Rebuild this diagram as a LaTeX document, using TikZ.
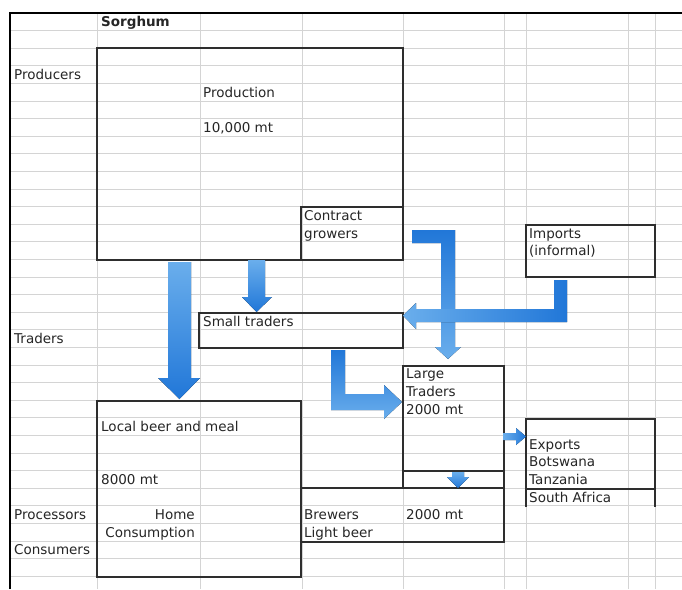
\documentclass[tikz,border=0pt]{standalone}
\usepackage{fontspec}
\setmainfont{DejaVu Sans}
\definecolor{gridc}{HTML}{D4D4D4}
\definecolor{boxc}{HTML}{2E2E2E}
\definecolor{txt}{HTML}{262626}
\definecolor{adark}{HTML}{2177D8}
\definecolor{alight}{HTML}{6AAEEC}
\begin{document}
\begin{tikzpicture}[x=1pt,y=-1pt,
  gridline/.style={draw=gridc, line width=1pt},
  box/.style={draw=boxc, line width=1.1pt, rectangle, inner sep=0pt, outer sep=0pt, anchor=north west},
  lbl/.style={anchor=base west, inner sep=0pt, font=\fontsize{13.5}{15}\selectfont, text=txt},
  lblr/.style={anchor=base east, inner sep=0pt, font=\fontsize{13.5}{15}\selectfont, text=txt},
  fat/.style={draw=none}
]
\useasboundingbox[fill=white] (0,0) rectangle (682,589);
% spreadsheet grid
\foreach \k in {1,...,32} \draw[gridline] (10,{13+17.6*\k}) -- (682,{13+17.6*\k});
\foreach \x in {97,200,302,403,504,526,628,655} \draw[gridline] (\x,13) -- (\x,589);
% frame
\draw[black, line width=1.3pt] (10,589) -- (10,13) -- (682,13);

% boxes
\node[box, minimum width=306pt, minimum height=212pt] (prod) at (97,48) {};
\node[box, minimum width=102pt, minimum height=53pt] (contract) at (301,207) {};
\node[box, minimum width=129pt, minimum height=52pt] (imports) at (526,225) {};
\node[box, minimum width=204pt, minimum height=35pt] (small) at (199,313) {};
\node[box, minimum width=101pt, minimum height=122pt] (large) at (403,366) {};
\node[box, minimum width=203pt, minimum height=54pt] (brewers) at (301,488) {};
\node[box, minimum width=204pt, minimum height=176pt] (local) at (97,401) {};
\coordinate (largeinL) at (403,471);
\coordinate (largeinR) at (504,471);
\draw[boxc, line width=1.1pt] (largeinL) -- (largeinR);
\node[rectangle, inner sep=0pt, outer sep=0pt, anchor=north west, minimum width=129pt, minimum height=88pt] (exports) at (526,419) {};
\coordinate (exmidL) at (526,489);
\coordinate (exmidR) at (655,489);
\draw[boxc, line width=1.1pt] (exports.south west) -- (exports.north west) -- (exports.north east) -- (exports.south east);
\draw[boxc, line width=1.1pt] (exmidL) -- (exmidR);

% texts
\node[lbl, font=\fontsize{13.5}{15}\selectfont\bfseries] (t0) at (101,26.6) {Sorghum};
\node[lbl] (t1) at (14,79.6) {Producers};
\node[lbl] (t2) at (203,97.2) {Production};
\node[lbl] (t3) at (203,132.4) {10,000 mt};
\node[lbl] (t4) at (304,220.4) {Contract};
\node[lbl] (t5) at (304,238) {growers};
\node[lbl] (t6) at (529,238) {Imports};
\node[lbl] (t7) at (529,255.6) {(informal)};
\node[lbl] (t8) at (203,326) {Small traders};
\node[lbl] (t9) at (14,343.6) {Traders};
\node[lbl] (t10) at (406,378.8) {Large};
\node[lbl] (t11) at (406,396.4) {Traders};
\node[lbl] (t12) at (406,414) {2000 mt};
\node[lbl] (t13) at (101,431.6) {Local beer and meal};
\node[lbl] (t14) at (101,484.4) {8000 mt};
\node[lbl] (t15) at (529,449.2) {Exports};
\node[lbl] (t16) at (529,466.8) {Botswana};
\node[lbl] (t17) at (529,484.4) {Tanzania};
\node[lbl] (t18) at (529,502) {South Africa};
\node[lbl] (t19) at (14,519.6) {Processors};
\node[lblr] (t20) at (195,519.6) {Home};
\node[lblr] (t21) at (195,537.2) {Consumption};
\node[lbl] (t22) at (304,519.6) {Brewers};
\node[lbl] (t23) at (304,537.2) {Light beer};
\node[lbl] (t24) at (406,519.6) {2000 mt};
\node[lbl] (t25) at (14,554.8) {Consumers};

% fat arrows
\fill[fat, top color=alight, bottom color=adark]
  (168,262) -- (191,262) -- (191,378) -- (200,378) -- (179.5,399) -- (158,378) -- (168,378) -- cycle;
\fill[fat, top color=alight, bottom color=adark]
  (248,260) -- (265,260) -- (265,297) -- (272,297) -- (256.5,312) -- (242,297) -- (248,297) -- cycle;
\fill[fat, top color=adark, bottom color=alight]
  (412,230) -- (455,230) -- (455,347) -- (461,347) -- (448,359) -- (435,347) -- (441,347) -- (441,243) -- (412,243) -- cycle;
\fill[fat, left color=alight, right color=adark]
  (554,280) -- (567,280) -- (567,322) -- (416,322) -- (416,329) -- (403,315.5) -- (416,303) -- (416,309) -- (554,309) -- cycle;
\fill[fat, top color=adark, bottom color=alight]
  (331,350) -- (345,350) -- (345,394) -- (384,394) -- (384,385) -- (402,402) -- (384,419) -- (384,410) -- (331,410) -- cycle;
\fill[fat, left color=alight, right color=adark]
  (503,433) -- (516,433) -- (516,428) -- (526,436.5) -- (516,445) -- (516,440) -- (503,440) -- cycle;
\fill[fat, top color=alight, bottom color=adark]
  (452,472) -- (464,472) -- (464,477) -- (469,477) -- (458,488) -- (447,477) -- (452,477) -- cycle;
\end{tikzpicture}
\end{document}
